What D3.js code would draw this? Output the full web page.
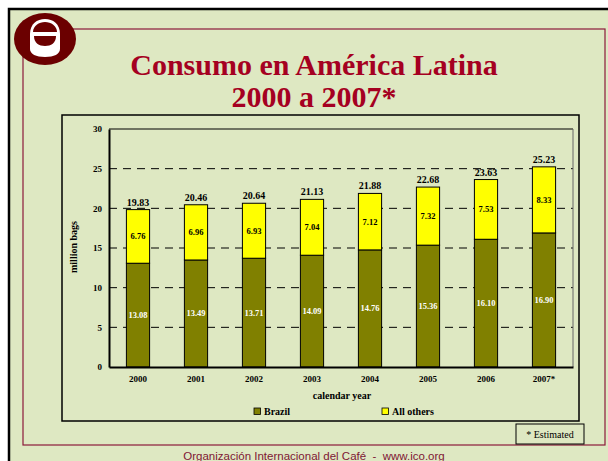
<!DOCTYPE html>
<html lang="en">
<head>
  <meta charset="UTF-8">
  <title>Consumo en América Latina</title>
  <script src="https://d3js.org/d3.v7.min.js"></script>
  <style>
    body { margin: 0; background: #fff; }
    svg { display: block; }
  </style>
</head>
<body>
  <div id="content"></div>
  <script>
    const years = ["2000", "2001", "2002", "2003", "2004", "2005", "2006", "2007*"];
    const brazil = [13.08, 13.49, 13.71, 14.09, 14.76, 15.36, 16.10, 16.90];
    const allOthers = [6.76, 6.96, 6.93, 7.04, 7.12, 7.32, 7.53, 8.33];
    const totals = [19.83, 20.46, 20.64, 21.13, 21.88, 22.68, 23.63, 25.23];
    const yTicks = [0, 5, 10, 15, 20, 25, 30];
    const seriesNames = ["Brazil", "All others"];

    const W = 608, H = 461;
    const maroon = "#a50021";
    const logoColor = "#6b0000";
    const serif = "'Liberation Serif', 'Times New Roman', serif";

    const svg = d3.select("#content").append("svg")
      .attr("width", W)
      .attr("height", H);

    // slide background + frames
    svg.append("rect").attr("x", 9).attr("y", 9).attr("width", W).attr("height", H)
      .attr("fill", "#dee8c2").attr("stroke", "#000").attr("stroke-width", 2.5);
    svg.append("rect").attr("x", 23).attr("y", 29).attr("width", 582).attr("height", 416)
      .attr("fill", "none").attr("stroke", "#8b1a3a").attr("stroke-width", 1.2);

    // logo
    const logo = svg.append("g").attr("transform", "translate(45,39)");
    logo.append("ellipse").attr("rx", 31).attr("ry", 26).attr("fill", logoColor);
    logo.append("path")
      .attr("d", "M-15,-5 C-15,-15 -8,-20 0,-20 C8,-20 15,-15 15,-5 L15,10 C15,15 9,18 0,18 C-9,18 -15,15 -15,10 Z")
      .attr("fill", "#fff");
    logo.append("path")
      .attr("d", "M-12,-7 C-12,-13 -6,-17 0,-17 C6,-17 12,-13 12,-7 Z")
      .attr("fill", logoColor);
    logo.append("path")
      .attr("d", "M-11,-3 L11,-3 C11,4 6,7 0,7 C-6,7 -11,4 -11,-3 Z")
      .attr("fill", logoColor);

    // title
    const titleLines = ["Consumo en América Latina", "2000 a 2007*"];
    svg.append("g").selectAll("text").data(titleLines).join("text")
      .attr("x", 314).attr("y", (d, i) => 75 + i * 32).attr("text-anchor", "middle")
      .style("font-family", serif).style("font-weight", "bold").style("font-size", "30px")
      .attr("fill", maroon).text(d => d);

    // chart frame
    svg.append("rect").attr("x", 62).attr("y", 115).attr("width", 517).attr("height", 306)
      .attr("fill", "none").attr("stroke", "#000").attr("stroke-width", 1.5);

    const x = d3.scaleBand().domain(years).range([109, 573]).paddingInner(0.6).paddingOuter(0.3);
    const y = d3.scaleLinear().domain([0, 30]).range([367, 129]);

    // gridlines
    svg.append("g").selectAll("line")
      .data(yTicks.filter(d => d > 0 && d < 30))
      .join("line")
      .attr("x1", 109).attr("x2", 573)
      .attr("y1", d => y(d)).attr("y2", d => y(d))
      .attr("stroke", "#000").attr("stroke-width", 1).attr("stroke-dasharray", "8,6");

    // plot border top/right
    svg.append("line").attr("x1", 109).attr("x2", 573).attr("y1", y(30)).attr("y2", y(30))
      .attr("stroke", "#000").attr("stroke-width", 1);
    svg.append("line").attr("x1", 573).attr("x2", 573).attr("y1", y(30)).attr("y2", y(0))
      .attr("stroke", "#666").attr("stroke-width", 1);

    const data = years.map((yr, i) => ({ yr, b: brazil[i], o: allOthers[i], t: totals[i] }));

    // bars
    const bars = svg.append("g").selectAll("g").data(data).join("g");
    bars.append("rect")
      .attr("x", d => x(d.yr)).attr("width", x.bandwidth())
      .attr("y", d => y(d.b)).attr("height", d => y(0) - y(d.b))
      .attr("fill", "#808000").attr("stroke", "#000").attr("stroke-width", 1);
    bars.append("rect")
      .attr("x", d => x(d.yr)).attr("width", x.bandwidth())
      .attr("y", d => y(d.b + d.o)).attr("height", d => y(d.b) - y(d.b + d.o))
      .attr("fill", "#ffff00").attr("stroke", "#000").attr("stroke-width", 1);

    // value labels
    bars.append("text")
      .attr("x", d => x(d.yr) + x.bandwidth() / 2)
      .attr("y", d => y(d.b / 2) + 3)
      .attr("text-anchor", "middle").attr("fill", "#fff")
      .style("font-family", serif).style("font-weight", "bold").style("font-size", "8.5px")
      .text(d => d.b.toFixed(2));
    bars.append("text")
      .attr("x", d => x(d.yr) + x.bandwidth() / 2)
      .attr("y", d => y(d.b + d.o / 2) + 3)
      .attr("text-anchor", "middle").attr("fill", "#000")
      .style("font-family", serif).style("font-weight", "bold").style("font-size", "8.5px")
      .text(d => d.o.toFixed(2));
    bars.append("text")
      .attr("x", d => x(d.yr) + x.bandwidth() / 2)
      .attr("y", d => y(d.b + d.o) - 4)
      .attr("text-anchor", "middle").attr("fill", "#000")
      .style("font-family", serif).style("font-weight", "bold").style("font-size", "10px")
      .text(d => d.t.toFixed(2));

    // axes
    const yAxis = svg.append("g").attr("transform", "translate(109,0)")
      .call(d3.axisLeft(y).tickValues(yTicks).tickSize(0).tickPadding(7));
    const xAxis = svg.append("g").attr("transform", `translate(0,${y(0)})`)
      .call(d3.axisBottom(x).tickSize(0).tickPadding(9));
    [yAxis, xAxis].forEach(a => {
      a.select(".domain").attr("stroke", "#000").attr("stroke-width", 2);
      a.selectAll("text").style("font-family", serif).style("font-weight", "bold")
        .style("font-size", "9px").attr("fill", "#000");
    });

    // axis labels
    svg.append("text").attr("transform", "translate(77,247) rotate(-90)")
      .attr("text-anchor", "middle")
      .style("font-family", serif).style("font-weight", "bold").style("font-size", "10px")
      .text("million bags");
    svg.append("text").attr("x", 342).attr("y", 399).attr("text-anchor", "middle")
      .style("font-family", serif).style("font-weight", "bold").style("font-size", "10px")
      .text("calendar year");

    // legend
    const legendX = [254, 382];
    const legendColor = ["#808000", "#ffff00"];
    const legend = svg.append("g").selectAll("g").data(seriesNames).join("g")
      .attr("transform", (d, i) => `translate(${legendX[i]},408)`);
    legend.append("rect").attr("width", 6.5).attr("height", 6.5)
      .attr("fill", (d, i) => legendColor[i]).attr("stroke", "#000").attr("stroke-width", 0.8);
    legend.append("text").attr("x", 10).attr("y", 7)
      .style("font-family", serif).style("font-weight", "bold").style("font-size", "10px")
      .text(d => d);

    // estimated note
    svg.append("rect").attr("x", 516).attr("y", 424).attr("width", 68).attr("height", 20)
      .attr("fill", "none").attr("stroke", "#000").attr("stroke-width", 1);
    svg.append("text").attr("x", 550).attr("y", 437.5).attr("text-anchor", "middle")
      .style("font-family", serif).style("font-size", "10px").text("* Estimated");

    // footer
    svg.append("text").attr("x", 314).attr("y", 460).attr("text-anchor", "middle")
      .style("font-family", "'Liberation Sans', Arial, sans-serif").style("font-size", "11.5px")
      .style("white-space", "pre")
      .attr("fill", "#7f1734").text("Organización Internacional del Café  -  www.ico.org");
  </script>
</body>
</html>
